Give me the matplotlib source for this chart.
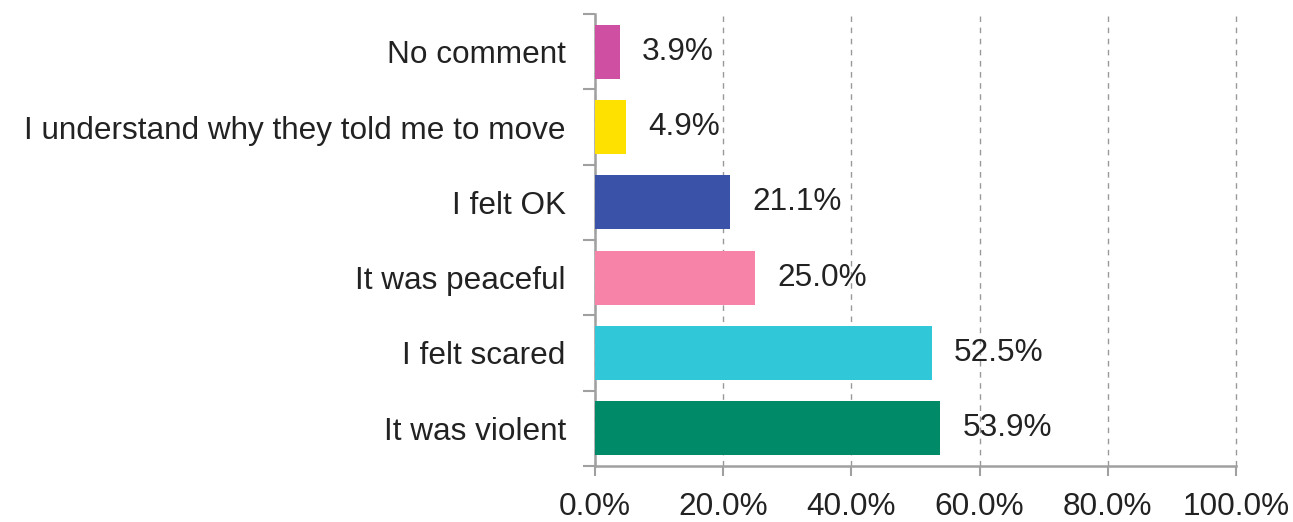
import matplotlib
matplotlib.use("Agg")
import matplotlib.pyplot as plt
import numpy as np

categories = ["It was violent", "I felt scared", "It was peaceful", "I felt OK",
              "I understand why they told me to move", "No comment"]
values = [53.9, 52.5, 25.0, 21.1, 4.9, 3.9]
colors = ["#008a68", "#30c8d8", "#f783a8", "#3a52a8", "#ffe100", "#cf4fa3"]
xticks = [0, 20, 40, 60, 80, 100]

plt.rcParams['font.family'] = ['Liberation Sans', 'DejaVu Sans']
FS = 22.7

fig = plt.figure(figsize=(12.93, 5.22), dpi=100)
ax = fig.add_axes([595/1293, 1-466/522, (1236-595)/1293, (466-14)/522])

y = np.arange(len(categories))
ax.barh(y, values, height=0.72, color=colors, zorder=3)
for yi, v in zip(y, values):
    ax.annotate(f"{v:.1f}%", (v, yi), xytext=(16, 0), textcoords="offset points",
                ha="left", va="center", fontsize=FS, color="#222222", zorder=4)

ax.set_xlim(0, 100)
ax.set_ylim(-0.5, len(categories) - 0.5)
ax.set_xticks(xticks)
ax.set_xticklabels([f"{t:.1f}%" for t in xticks], fontsize=FS, color="#222222")
ax.set_yticks(y)
ax.set_yticklabels(categories, fontsize=FS, color="#222222")
ax.set_yticks(np.arange(-0.5, len(categories)), minor=True)
ax.tick_params(axis="y", which="major", length=0, pad=21)
ax.tick_params(axis="y", which="minor", length=9, width=1.5, color="#a0a0a0")
ax.tick_params(axis="x", which="major", length=7, width=1.5, color="#a0a0a0", pad=12)

ax.grid(axis="x", linestyle=(0, (4, 4)), color="#999999", linewidth=1, zorder=0)
for gl in ax.get_xgridlines():
    gl.set_clip_on(False)
for s in ["top", "right"]:
    ax.spines[s].set_visible(False)
for s in ["left", "bottom"]:
    ax.spines[s].set_color("#a0a0a0")
    ax.spines[s].set_linewidth(1.8)

fig.savefig("out.png", dpi=100)
